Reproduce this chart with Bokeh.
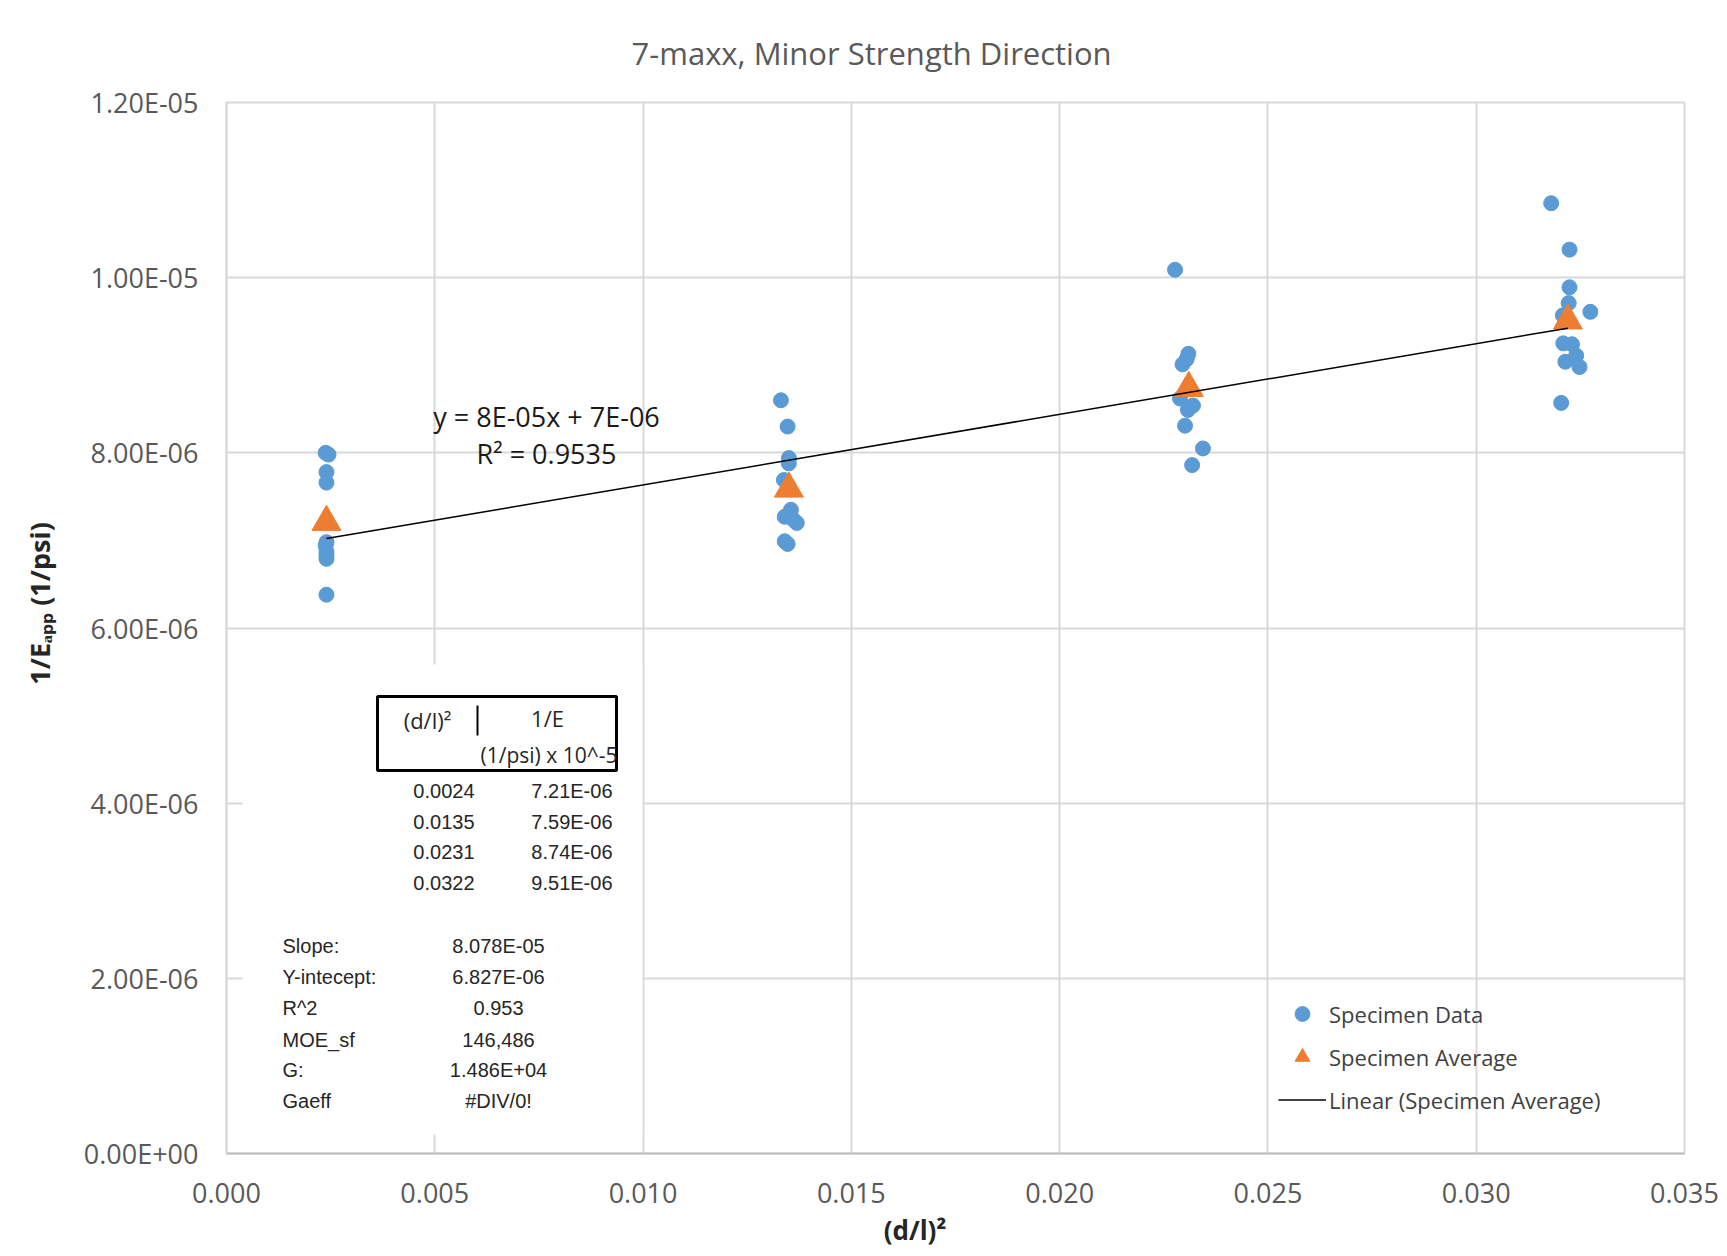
import numpy as np
from bokeh.plotting import figure
from bokeh.models import (Range1d, FixedTicker, CustomJSTickFormatter, Label,
                          BoxAnnotation, Legend, LegendItem)
from bokeh.embed import file_html
from bokeh.resources import INLINE

# ---------------- data ----------------
TITLE = "7-maxx, Minor Strength Direction"
X_LABEL = "(d/l)²"
Y_LABEL = "1/Eₐₚₚ (1/psi)"

X_TICKS = [0.0, 0.005, 0.010, 0.015, 0.020, 0.025, 0.030, 0.035]
X_TICK_LABELS = ["0.000", "0.005", "0.010", "0.015", "0.020", "0.025", "0.030", "0.035"]
Y_TICKS = [0.0, 2e-6, 4e-6, 6e-6, 8e-6, 1e-5, 1.2e-5]
Y_TICK_LABELS = ["0.00E+00", "2.00E-06", "4.00E-06", "6.00E-06", "8.00E-06", "1.00E-05", "1.20E-05"]

# Specimen data, four span groups
G1_X = [0.00238, 0.00245, 0.0024, 0.0024, 0.0024, 0.00238, 0.0024, 0.0024, 0.0024, 0.0024]
G1_Y = [8.00e-6, 7.98e-6, 7.78e-6, 7.66e-6, 6.98e-6, 6.94e-6, 6.87e-6, 6.83e-6, 6.79e-6, 6.38e-6]
G2_X = [0.01331, 0.01347, 0.0135, 0.0135, 0.01338, 0.01355, 0.0134, 0.01369, 0.0136, 0.0134, 0.01347]
G2_Y = [8.60e-6, 8.30e-6, 7.94e-6, 7.88e-6, 7.69e-6, 7.35e-6, 7.27e-6, 7.20e-6, 7.24e-6, 6.99e-6, 6.96e-6]
G3_X = [0.02277, 0.02309, 0.02305, 0.02295, 0.02289, 0.0232, 0.02308, 0.02301, 0.02344, 0.02318]
G3_Y = [10.09e-6, 9.13e-6, 9.07e-6, 9.01e-6, 8.62e-6, 8.54e-6, 8.49e-6, 8.31e-6, 8.05e-6, 7.86e-6]
G4_X = [0.0318, 0.03224, 0.03224, 0.03222, 0.03208, 0.03274, 0.03209, 0.0323, 0.0324, 0.03214, 0.03248, 0.03204]
G4_Y = [10.85e-6, 10.32e-6, 9.89e-6, 9.71e-6, 9.57e-6, 9.61e-6, 9.25e-6, 9.24e-6, 9.11e-6, 9.04e-6, 8.98e-6, 8.57e-6]

AVG_X = [0.0024, 0.0135, 0.0231, 0.0322]
AVG_Y = [7.21e-6, 7.59e-6, 8.74e-6, 9.51e-6]

EQ_TEXT = "y = 8E-05x + 7E-06"
R2_TEXT = "R² = 0.9535"

TABLE_HEAD = ["(d/l)²", "1/E", "(1/psi) x 10^-5"]
TABLE_X_TEXT = ["0.0024", "0.0135", "0.0231", "0.0322"]
TABLE_Y_TEXT = ["7.21E-06", "7.59E-06", "8.74E-06", "9.51E-06"]
STAT_NAMES = ["Slope:", "Y-intecept:", "R^2", "MOE_sf", "G:", "Gaeff"]
STAT_VALUES = ["8.078E-05", "6.827E-06", "0.953", "146,486", "1.486E+04", "#DIV/0!"]

LEGEND_LABELS = ["Specimen Data", "Specimen Average", "Linear (Specimen Average)"]

SPEC_X = G1_X + G2_X + G3_X + G4_X
SPEC_Y = G1_Y + G2_Y + G3_Y + G4_Y

# ---------------- figure ----------------
W, H = 1727, 1256
p = figure(width=W, height=H, output_backend="svg", toolbar_location=None,
           x_range=Range1d(0, 0.035), y_range=Range1d(0, 1.2e-5),
           min_border_left=226, min_border_top=102, min_border_right=43, min_border_bottom=103)
p.background_fill_color = "white"
p.border_fill_color = "white"
p.outline_line_color = "#d9d9d9"
p.outline_line_width = 2

# title (offset so that it sits centred on the whole chart, as in the original)
p.title.text = TITLE
p.title.align = "left"
p.title.offset = 405
p.title.standoff = 58
p.title.text_font = "Open Sans"
p.title.text_font_size = "31px"
p.title.text_font_style = "normal"
p.title.text_color = "#595959"

GRID = "#d9d9d9"
for g, t in ((p.xgrid, X_TICKS), (p.ygrid, Y_TICKS)):
    g.ticker = FixedTicker(ticks=t)
    g.grid_line_color = GRID
    g.grid_line_width = 2

FMT_CODE = """
let best = 0, bd = Infinity;
for (let i = 0; i < tick_vals.length; i++) {
  const d = Math.abs(tick_vals[i] - tick);
  if (d < bd) { bd = d; best = i; }
}
return tick_labels[best];
"""
p.xaxis.ticker = FixedTicker(ticks=X_TICKS)
p.xaxis.formatter = CustomJSTickFormatter(args=dict(tick_vals=X_TICKS, tick_labels=X_TICK_LABELS), code=FMT_CODE)
p.yaxis.ticker = FixedTicker(ticks=Y_TICKS)
p.yaxis.formatter = CustomJSTickFormatter(args=dict(tick_vals=Y_TICKS, tick_labels=Y_TICK_LABELS), code=FMT_CODE)

NB = "\u00a0"
for ax in (p.xaxis[0], p.yaxis[0]):
    ax.major_tick_line_color = None
    ax.minor_tick_line_color = None
    ax.major_tick_out = 0
    ax.major_tick_in = 0
    ax.minor_tick_out = 0
    ax.minor_tick_in = 0
    ax.major_label_text_font = "Open Sans"
    ax.major_label_text_font_size = "27px"
    ax.major_label_text_color = "#595959"
    ax.axis_label_text_font = "Open Sans"
    ax.axis_label_text_font_style = "bold"
    ax.axis_label_text_color = "#262626"
p.xaxis.axis_label_text_font_size = "26px"
p.yaxis.axis_label_text_font_size = "27px"
p.xaxis.axis_line_color = "#bfbfbf"
p.xaxis.axis_line_width = 2
p.yaxis.axis_line_color = "#d9d9d9"
p.yaxis.axis_line_width = 2
p.xaxis.major_label_standoff = 29
p.yaxis.major_label_standoff = 28
# padding with no-break spaces shifts the titles to where the original has them
p.xaxis.axis_label = X_LABEL + NB * 12
p.yaxis.axis_label = NB * 7 + Y_LABEL
p.xaxis.axis_label_standoff = 6
p.yaxis.axis_label_standoff = 23

# ---------------- glyphs ----------------
sd = p.scatter(SPEC_X, SPEC_Y, marker="circle", size=15,
               fill_color="#5b9bd5", line_color="#5b9bd5")
sa = p.scatter(AVG_X, AVG_Y, marker="triangle", size=29,
               fill_color="#ed7d31", line_color="#ed7d31")
slope, intercept = np.polyfit(AVG_X, AVG_Y, 1)
fx = [min(AVG_X), max(AVG_X)]
tl = p.line(fx, [slope * x + intercept for x in fx], line_color="black", line_width=1.5)

legend = Legend(items=[LegendItem(label=LEGEND_LABELS[0], renderers=[sd]),
                       LegendItem(label=LEGEND_LABELS[1], renderers=[sa]),
                       LegendItem(label=LEGEND_LABELS[2], renderers=[tl])],
                location=(1052, 35), orientation="vertical",
                glyph_width=48, glyph_height=37, label_height=37, spacing=6,
                label_standoff=3, padding=0, margin=0,
                background_fill_alpha=0, border_line_color=None,
                label_text_font="Open Sans", label_text_font_size="22px",
                label_text_color="#404040")
p.add_layout(legend)


def lab(text, x, y, size, font="Open Sans", color="#404040", align="center",
        baseline="middle", angle=0.0, style="normal"):
    p.add_layout(Label(text=text, x=x, y=y, x_units="screen", y_units="screen",
                       text_font=font, text_font_size=f"{size}px", text_color=color,
                       text_align=align, text_baseline=baseline, angle=angle,
                       text_font_style=style))


def box(l, r, b, t, fill="white", line=None, lw=1):
    p.add_layout(BoxAnnotation(left=l, right=r, bottom=b, top=t,
                               left_units="screen", right_units="screen",
                               bottom_units="screen", top_units="screen",
                               fill_color=fill, fill_alpha=1.0,
                               line_color=line, line_width=lw, line_alpha=1.0))


# trendline equation
lab(EQ_TEXT, 320, 737, 27, color="#1a1a1a")
lab(R2_TEXT, 320, 700, 27, color="#1a1a1a")

# embedded table overlay
box(16, 416, 19, 489)
box(151, 390, 383, 457, fill="white", line="black", lw=3)
box(250, 252, 418, 448, fill="black")
lab(TABLE_HEAD[0], 201, 434, 22, color="#262626")
lab(TABLE_HEAD[1], 321, 436, 22, color="#262626")
lab(TABLE_HEAD[2], 254, 399, 21, color="#262626", align="left")

ROW_Y = [363, 332, 302, 271]
for t1, t2, ry in zip(TABLE_X_TEXT, TABLE_Y_TEXT, ROW_Y):
    lab(t1, 248, ry, 20, font="Liberation Sans", color="#262626", align="right")
    lab(t2, 386, ry, 20, font="Liberation Sans", color="#262626", align="right")

STAT_Y = [208, 177, 146, 114, 84, 53]
for n, v, ry in zip(STAT_NAMES, STAT_VALUES, STAT_Y):
    lab(n, 56, ry, 20, font="Liberation Sans", color="#262626", align="left")
    lab(v, 272, ry, 20, font="Liberation Sans", color="#262626", align="center")

open("out.html", "w").write(file_html(p, INLINE))
